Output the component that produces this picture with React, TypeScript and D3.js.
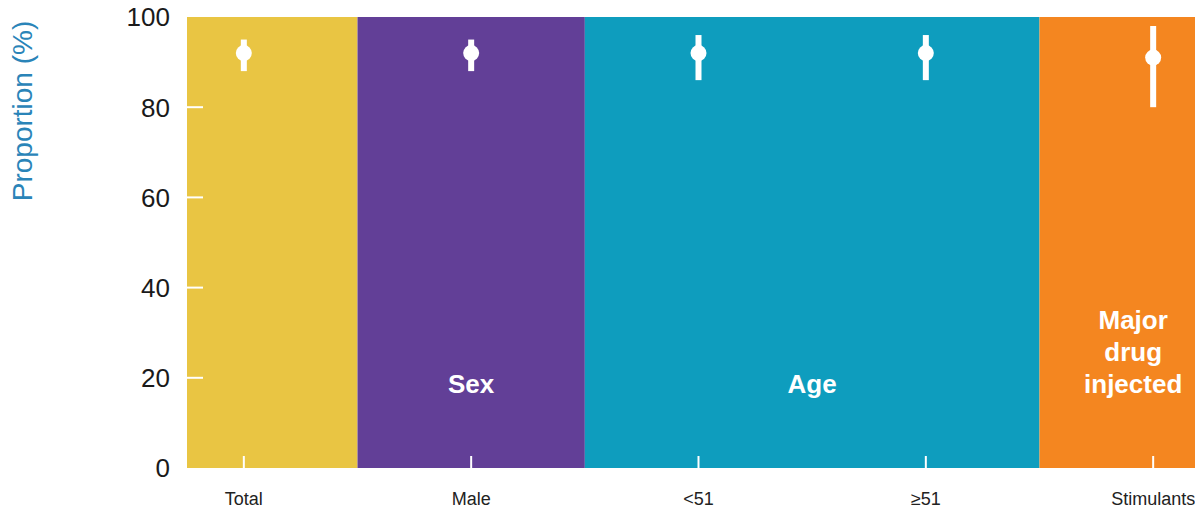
import React from "react";
import * as d3 from "d3";

const categories = ["Total", "Male", "<51", "≥51", "Stimulants"];
const estimates = [92, 92, 92, 92, 91];
const lowerCI = [88, 88, 86, 86, 80];
const upperCI = [95, 95, 96, 96, 98];
const groupNames = ["", "Sex", "Age", "Major drug injected"];
const groupMembers = [["Total"], ["Male"], ["<51", "≥51"], ["Stimulants"]];
const groupColors = ["#E9C543", "#623F97", "#0E9DBE", "#F48620"];
const yTicks = [0, 20, 40, 60, 80, 100];

const W = 1195;
const H = 508;
const left = 187;
const right = 1210;
const top = 17;
const bottom = 468;
const FONT = "'Liberation Sans', Arial, Helvetica, sans-serif";

export default function App() {
  const x = d3.scalePoint<string>().domain(categories).range([left, right]).padding(0.25);
  const y = d3.scaleLinear().domain([0, 100]).range([bottom, top]);
  const step = x.step();

  const bands = groupMembers.map((mem, i) => {
    const x0 = Math.max(left, (x(mem[0]) as number) - step / 2);
    const x1 = Math.min(right, (x(mem[mem.length - 1]) as number) + step / 2);
    const cx = d3.mean(mem, (m) => x(m) as number) as number;
    return { x0, x1, cx, color: groupColors[i], name: groupNames[i] };
  });

  return (
    <svg width={W} height={H} style={{ position: "absolute", left: 0, top: 0 }} fontFamily={FONT}>
      {bands.map((b, i) => (
        <rect key={i} x={b.x0} y={top} width={b.x1 - b.x0} height={bottom - top} fill={b.color} />
      ))}
      {/* y ticks */}
      {yTicks.map((t) => (
        <g key={t}>
          {t > 0 && t < 100 && (
            <line x1={left} x2={left + 16} y1={y(t)} y2={y(t)} stroke="#fff" strokeWidth={2} />
          )}
          <text x={170} y={y(t)} dy="0.36em" textAnchor="end" fontSize={26} fill="#1a1a1a">
            {t}
          </text>
        </g>
      ))}
      {/* x ticks */}
      {categories.map((c) => (
        <g key={c}>
          <line x1={x(c)} x2={x(c)} y1={bottom} y2={bottom - 12} stroke="#fff" strokeWidth={2} />
          <text x={x(c)} y={505} textAnchor="middle" fontSize={18} fill="#222">
            {c}
          </text>
        </g>
      ))}
      {/* group labels */}
      {bands.map((b, i) => {
        if (!b.name) return null;
        const words = b.name.split(" ");
        const isLast = i === bands.length - 1;
        const cx = isLast ? b.cx - 20 : b.cx;
        const lineH = 32;
        const baseY = 393 - (words.length - 1) * lineH;
        if (words.length === 1)
          return (
            <text key={i} x={cx} y={393} textAnchor="middle" fontSize={26} fontWeight="bold" fill="#fff">
              {b.name}
            </text>
          );
        return (
          <text key={i} x={cx} textAnchor="middle" fontSize={26} fontWeight="bold" fill="#fff">
            {words.map((w, j) => (
              <tspan key={j} x={cx} y={baseY + j * lineH}>
                {w}
              </tspan>
            ))}
          </text>
        );
      })}
      {/* error bars */}
      {categories.map((c, i) => (
        <g key={c}>
          <line x1={x(c)} x2={x(c)} y1={y(lowerCI[i])} y2={y(upperCI[i])} stroke="#fff" strokeWidth={6} />
          <circle cx={x(c)} cy={y(estimates[i])} r={8} fill="#fff" />
        </g>
      ))}
      {/* y title */}
      <text
        transform={`translate(32, ${(17 + 205) / 2}) rotate(-90)`}
        textAnchor="middle"
        fontSize={28}
        fill="#2A84B8"
      >
        Proportion (%)
      </text>
    </svg>
  );
}
